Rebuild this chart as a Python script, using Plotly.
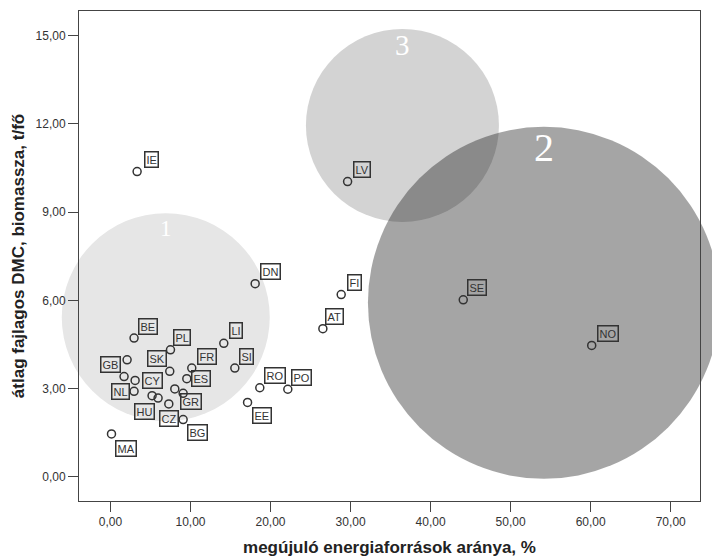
import plotly.graph_objects as go

# ---- data ----
countries = ["IE", "LV", "DN", "FI", "AT", "SE", "NO", "BE", "PL", "LI",
             "SK", "FR", "ES", "SI", "GB", "CY", "NL", "HU", "GR", "CZ",
             "BG", "MA", "RO", "PO", "EE", "", "", ""]
renewable_share = [3.33, 29.63, 18.08, 28.83, 26.54, 44.08, 60.13, 2.95, 7.50, 14.16,
                   7.41, 10.16, 9.54, 15.54, 1.70, 3.08, 2.95, 5.95, 8.04, 7.29,
                   9.08, 0.13, 18.66, 22.16, 17.13, 2.08, 5.20, 9.08]
dmc_biomass = [10.38, 10.04, 6.57, 6.20, 5.04, 6.02, 4.47, 4.72, 4.32, 4.54,
               3.59, 3.70, 3.34, 3.70, 3.41, 3.28, 2.91, 2.68, 2.99, 2.48,
               1.95, 1.46, 3.03, 2.98, 2.53, 3.98, 2.76, 2.84]

cluster_ids = ["1", "3", "2"]
cluster_x = [6.91, 36.48, 54.16]
cluster_y = [5.43, 11.95, 5.92]
cluster_diam_px = [208, 193, 352]

x_ticks = [0, 10, 20, 30, 40, 50, 60, 70]
y_ticks = [0, 3, 6, 9, 12, 15]

# ---- styling / label placement (pixels) ----
label_dx = [14, 14, 15, 13, 12, 14, 16, 14, 12, 12,
            -13, 15, 14, 12, -14, 17, -14, -14, 16, 0,
            14, 15, 15, 14, 14, 0, 0, 0]
label_dy = [-12, -12, -12, -12, -12, -12, -12, -12, -12, -13,
            -13, -12, 0, -12, -12, 0, 0, 13, 13, 15,
            13, 15, -12, -12, 13, 0, 0, 0]
cluster_colors = ["#e6e6e6", "#d3d3d3", "rgba(22,22,22,0.386)"]
cluster_font = [23, 29, 40]
cluster_label_shift = [89, 80, 155]

fig = go.Figure()

fig.add_trace(go.Scatter(
    x=cluster_x, y=cluster_y, mode="markers",
    marker=dict(size=cluster_diam_px, color=cluster_colors, line=dict(width=0),
                opacity=1),
    cliponaxis=False, hoverinfo="skip", showlegend=False,
))

fig.add_trace(go.Scatter(
    x=renewable_share, y=dmc_biomass, mode="markers",
    marker=dict(symbol="circle-open", size=8, color="#333333",
                line=dict(width=1.5, color="#333333")),
    text=countries, showlegend=False,
))

annotations = []
for cid, cx, cy, fs, sh in zip(cluster_ids, cluster_x, cluster_y, cluster_font, cluster_label_shift):
    annotations.append(dict(
        x=cx, y=cy, xref="x", yref="y", text=cid, showarrow=False,
        yshift=sh, font=dict(family="Liberation Serif", size=fs, color="white"),
    ))
for c, xv, yv, dx, dy in zip(countries, renewable_share, dmc_biomass, label_dx, label_dy):
    if not c:
        continue
    annotations.append(dict(
        x=xv, y=yv, xref="x", yref="y", text=c, showarrow=False,
        xshift=dx, yshift=-dy,
        font=dict(family="Liberation Sans", size=11, color="#333333"),
        bordercolor="#333333", borderwidth=1.5, borderpad=1,
        bgcolor="rgba(0,0,0,0)",
    ))

axis_common = dict(
    showline=True, mirror=True, linecolor="#444444", linewidth=1,
    ticks="outside", ticklen=10, tickwidth=1, tickcolor="#444444",
    showgrid=False, zeroline=False, tickformat=".2f",
    tickfont=dict(family="Liberation Sans", size=12, color="#333333"),
    automargin=False,
)

fig.update_layout(
    width=712, height=559,
    margin=dict(l=79, r=12, t=11, b=58),
    paper_bgcolor="white", plot_bgcolor="white",
    separators=", ",
    annotations=annotations,
    xaxis=dict(range=[-3.93, 73.66], tickvals=x_ticks,
               title=dict(text="megújuló energiaforrások aránya, %", standoff=12,
                          font=dict(family="Liberation Sans", size=17, color="#222222", weight="bold")),
               **axis_common),
    yaxis=dict(range=[-0.82, 15.84], tickvals=y_ticks,
               title=dict(text="átlag fajlagos DMC, biomassza, t/fő", standoff=6,
                          font=dict(family="Liberation Sans", size=17, color="#222222", weight="bold")),
               **axis_common),
)

fig.write_html("out.html")
